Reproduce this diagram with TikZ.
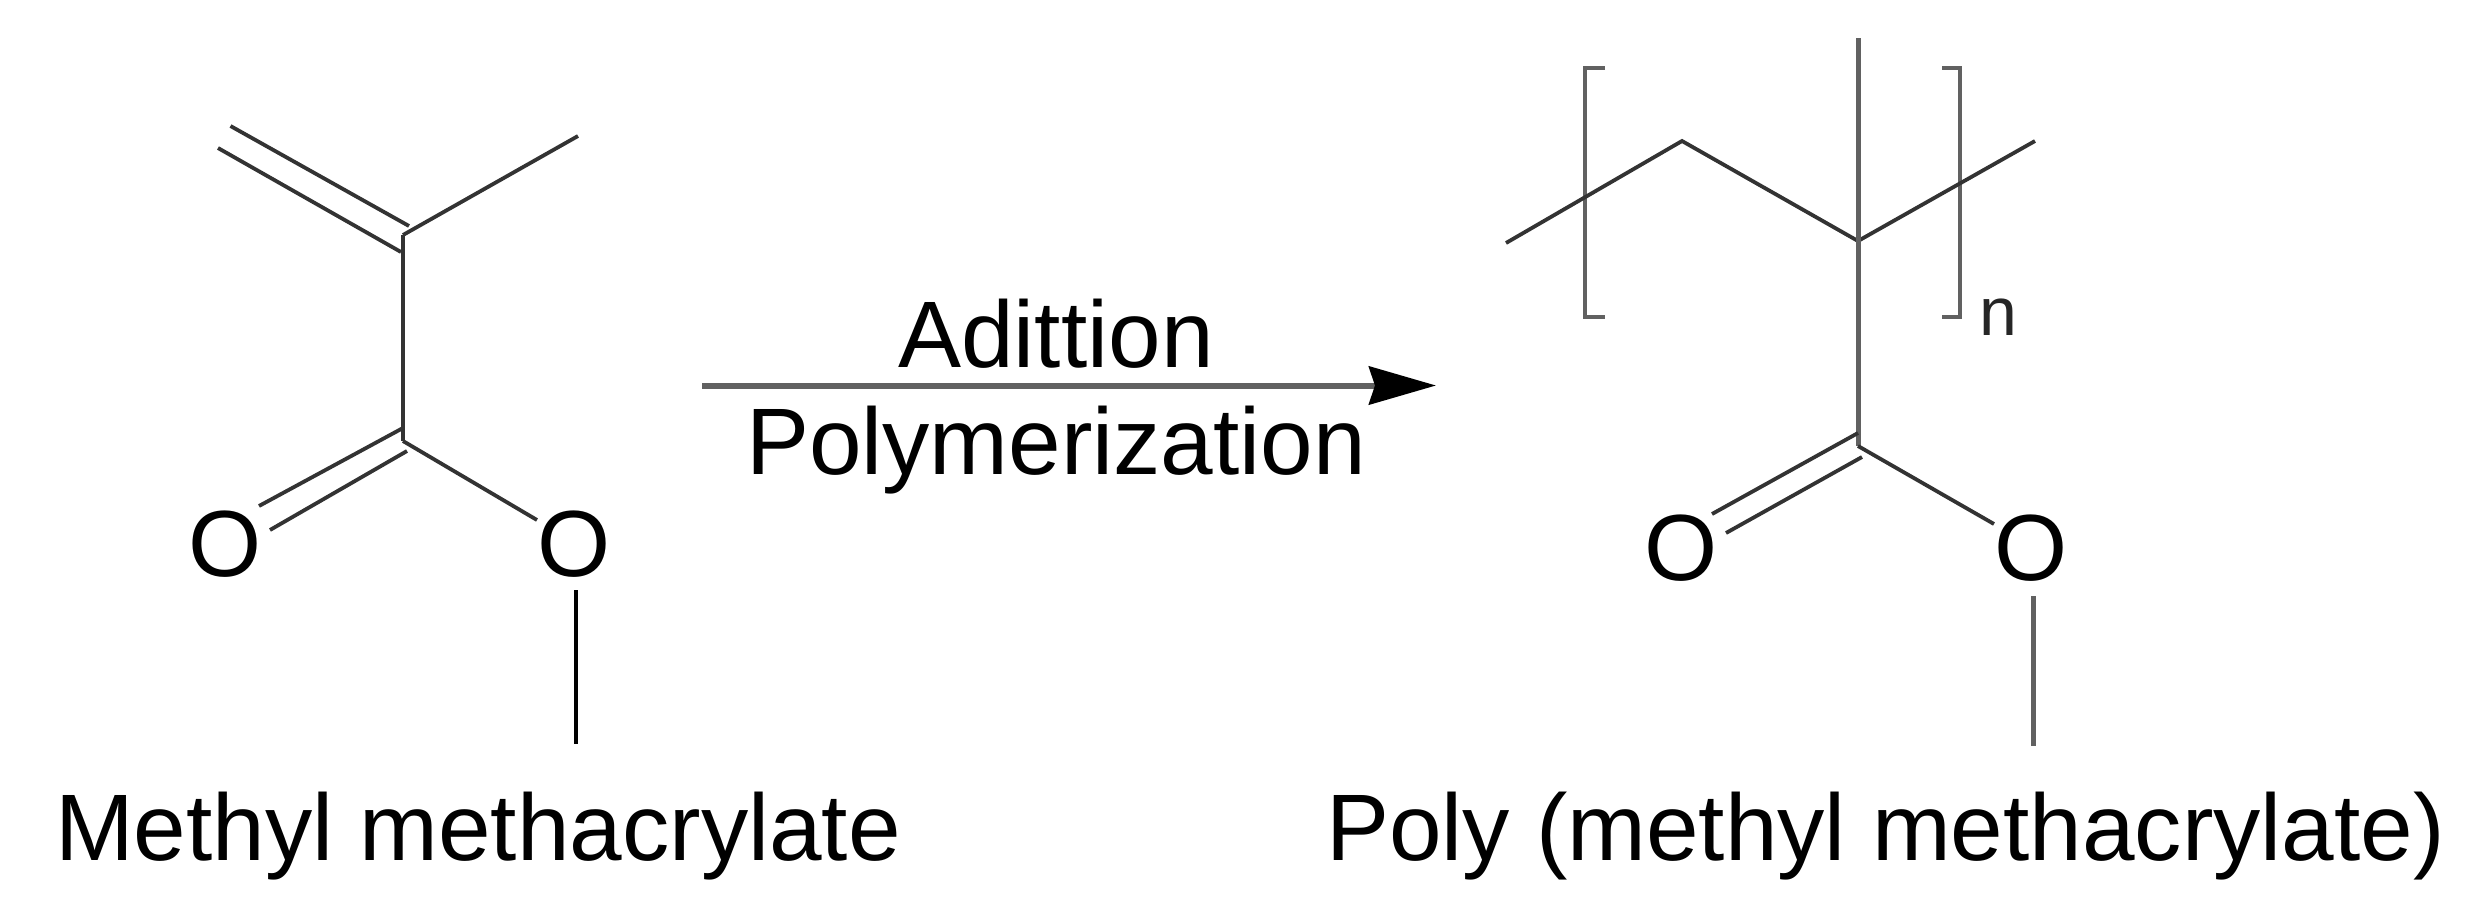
\documentclass[tikz,border=0pt]{standalone}
\usepackage{fontspec}
\setmainfont{Liberation Sans}
\usetikzlibrary{arrows.meta}
\definecolor{bondcol}{gray}{0.2}
\definecolor{softcol}{gray}{0.38}
\tikzset{
  bond/.style={draw=bondcol,line width=3.8pt},
  softbond/.style={draw=softcol,line width=5pt},
  bracketline/.style={draw=softcol,line width=4pt,line cap=butt},
  atom/.style={inner sep=0pt,font=\fontsize{94}{100}\selectfont,text=black},
  label/.style={inner sep=0pt,anchor=base,font=\fontsize{94.5}{100}\selectfont,text=black},
  sub/.style={inner sep=0pt,anchor=base,font=\fontsize{68}{70}\selectfont,text=black!85},
  reaction/.style={draw=softcol,line width=6pt,-{Stealth[length=67pt,width=38pt,inset=6pt,color=black]}}
}
\begin{document}
\begin{tikzpicture}[x=1pt,y=-1pt]
\useasboundingbox (0,0) rectangle (2476,916);
% left molecule
\coordinate (a1s) at (230.5,126); \coordinate (a1e) at (409,226);
\coordinate (a2s) at (218,148);   \coordinate (a2e) at (401,252);
\coordinate (lc1) at (403,235);   \coordinate (lme) at (578,136);
\coordinate (lc2) at (403,441);
\coordinate (lo1a) at (403,428); \coordinate (lo1b) at (259,506);
\coordinate (lo2a) at (407,451); \coordinate (lo2b) at (270,530);
\coordinate (lob) at (537,520);
\coordinate (lm1) at (576,590);  \coordinate (lm2) at (576,744);
\node[atom] (lodbl) at (225,544) {O};
\node[atom] (losgl) at (574,544) {O};
\draw[bond] (a1s) -- (a1e);
\draw[bond] (a2s) -- (a2e);
\draw[bond] (lc1) -- (lme);
\draw[bond] (lc1) -- (lc2);
\draw[bond] (lo1a) -- (lo1b);
\draw[bond] (lo2a) -- (lo2b);
\draw[bond] (lc2) -- (lob);
\draw[draw=black,line width=3.8pt] (lm1) -- (lm2);
\node[label,anchor=base west] (lname) at (55,860) {Methyl methacrylate};
% arrow
\coordinate (as) at (702,385.5); \coordinate (ae) at (1436,385.5);
\draw[reaction] (as) -- (ae);
\node[label] (add) at (1056,367) {Adittion};
\node[label] (poly) at (1056,474) {Polymerization};
% right molecule
\coordinate (r0) at (1506,243); \coordinate (r1) at (1682,141);
\coordinate (rc) at (1858,241); \coordinate (r3) at (2035,141);
\coordinate (rt) at (1858,38);  \coordinate (rc2) at (1858,446);
\coordinate (ro1a) at (1858,433); \coordinate (ro1b) at (1712,514);
\coordinate (ro2a) at (1862,457); \coordinate (ro2b) at (1726,533);
\coordinate (rob) at (1994,524);
\coordinate (rm1) at (2033,596); \coordinate (rm2) at (2033,746);
\coordinate (bl1) at (1605,68); \coordinate (bl2) at (1585,68);
\coordinate (bl3) at (1585,317); \coordinate (bl4) at (1605,317);
\coordinate (br1) at (1942,68); \coordinate (br2) at (1960,68);
\coordinate (br3) at (1960,317); \coordinate (br4) at (1942,317);
\node[atom] (rodbl) at (1681,548) {O};
\node[atom] (rosgl) at (2031,548) {O};
\draw[bracketline] (bl1) -- (bl2) -- (bl3) -- (bl4);
\draw[bracketline] (br1) -- (br2) -- (br3) -- (br4);
\draw[bond] (r0) -- (r1) -- (rc) -- (r3);
\draw[softbond] (rt) -- (rc2);
\draw[bond] (ro1a) -- (ro1b);
\draw[bond] (ro2a) -- (ro2b);
\draw[bond] (rc2) -- (rob);
\draw[softbond] (rm1) -- (rm2);
\node[sub] (rn) at (1998,335) {n};
\node[label,anchor=base west] (rname) at (1326,860) {Poly (methyl methacrylate)};
\end{tikzpicture}
\end{document}
